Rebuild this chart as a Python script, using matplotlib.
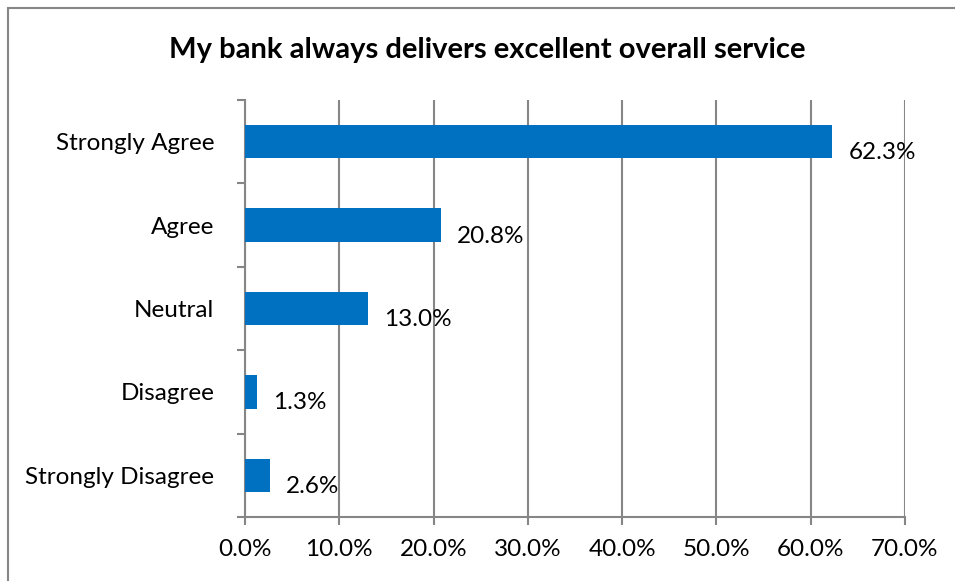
import matplotlib
matplotlib.use("Agg")
import matplotlib.pyplot as plt
from matplotlib.patches import Rectangle
from matplotlib.ticker import FuncFormatter, MultipleLocator
from matplotlib.transforms import offset_copy

categories = ["Strongly Agree", "Agree", "Neutral", "Disagree", "Strongly Disagree"]
values = [62.3, 20.8, 13.0, 1.3, 2.6]
title = "My bank always delivers excellent overall service"

plt.rcParams['font.family'] = ['Lato', 'DejaVu Sans']

fig = plt.figure(figsize=(9.55, 5.81), dpi=100)
fig.patch.set_facecolor("white")

# outer chart-area border (left and top edges visible)
fig.patches.append(Rectangle((8 / 955, -0.1), 1.2, 1 - 8 / 581 + 0.1,
                             transform=fig.transFigure, fill=False,
                             edgecolor="#868686", linewidth=1.5))

ax = fig.add_axes([245 / 955, 1 - 517 / 581, 660 / 955, 417 / 581])

ypos = list(range(len(categories)))[::-1]
ax.barh(ypos, values, height=0.4, color="#0070C0", zorder=3)

ax.set_xlim(0, 70)
ax.set_ylim(-0.5, len(categories) - 0.5)
ax.xaxis.set_major_locator(MultipleLocator(10))
ax.xaxis.set_major_formatter(FuncFormatter(lambda v, p: f"{v:.1f}%"))
ax.set_yticks(ypos)
ax.set_yticklabels(categories)
ax.set_yticks([i - 0.5 for i in range(len(categories) + 1)], minor=True)

grid_c = "#868686"
ax.grid(axis="x", color=grid_c, linewidth=1.5, zorder=0)
for s in ["top", "right"]:
    ax.spines[s].set_visible(False)
for s in ["left", "bottom"]:
    ax.spines[s].set_color(grid_c)
    ax.spines[s].set_linewidth(1.5)

ax.tick_params(axis="y", which="major", length=0, pad=22, labelsize=17.5)
ax.tick_params(axis="y", which="minor", length=6, width=1.5, color=grid_c)
ax.tick_params(axis="x", length=6, width=1.5, color=grid_c, pad=10, labelsize=17.5)

for y, v in zip(ypos, values):
    tr = offset_copy(ax.transData, fig=fig, x=16, y=-11, units="dots")
    ax.text(v, y, f"{v:.1f}%", transform=tr, va="center", ha="left",
            fontsize=17.5, color="black")

fig.text(487 / 955, 1 - 50 / 581, title, ha="center", va="center",
         fontsize=21, fontweight="bold")

fig.savefig("out.png", dpi=100)
